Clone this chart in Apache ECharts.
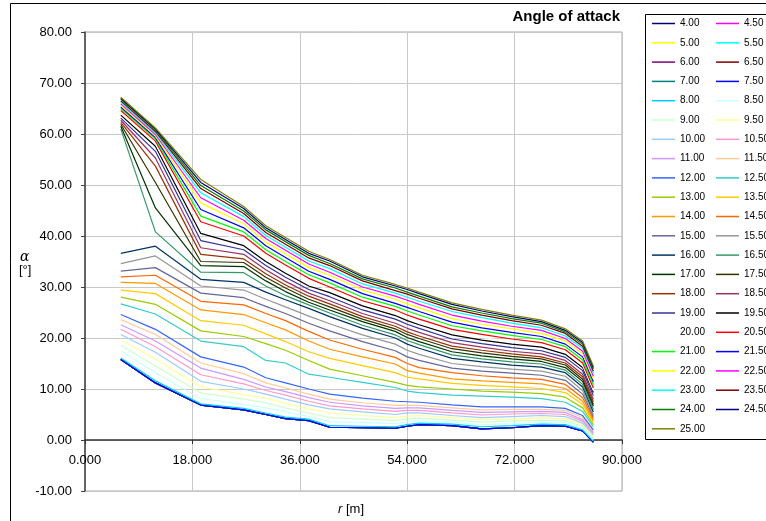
<!DOCTYPE html>
<html>
<head>
<meta charset="utf-8">
<script src="https://cdn.jsdelivr.net/npm/echarts@6/dist/echarts.min.js"></script>
<style>
  html, body { margin: 0; padding: 0; background: #fff; }
  #chart { width: 766px; height: 521px; }
</style>
</head>
<body>
<div id="chart"></div>
<script>
// radial stations along the blade [m]
const radius = [6.0, 11.8, 19.4, 26.6, 30.3, 33.6, 37.5, 41.0, 46.5, 52.0, 54.0, 56.0, 61.5, 66.5, 71.5, 76.5, 80.5, 83.4, 85.2];

const windLabels = ['4.00', '4.50', '5.00', '5.50', '6.00', '6.50', '7.00', '7.50', '8.00', '8.50',
  '9.00', '9.50', '10.00', '10.50', '11.00', '11.50', '12.00', '12.50', '13.00', '13.50',
  '14.00', '14.50', '15.00', '15.50', '16.00', '16.50', '17.00', '17.50', '18.00', '18.50',
  '19.00', '19.50', '20.00', '20.50', '21.00', '21.50', '22.00', '22.50', '23.00', '23.50',
  '24.00', '24.50', '25.00'];

// angle of attack [deg] per wind speed, one value per station
const aoaBelowRated = [15.8, 11.2, 6.85, 5.9, 5.0, 4.2, 3.8, 2.5, 2.4, 2.3, 2.7, 3.0, 2.8, 2.2, 2.4, 2.8, 2.7, 1.8, -0.4];
const aoa800 = [16.1, 11.6, 7.1, 6.2, 5.3, 4.5, 4.1, 2.8, 2.7, 2.6, 3.0, 3.3, 3.1, 2.6, 2.8, 3.1, 3.0, 2.0, -0.2];
const aoa850 = [17.5, 13.2, 8.1, 7.0, 6.3, 5.5, 4.6, 3.6, 3.4, 3.2, 3.6, 3.8, 3.5, 3.0, 3.2, 3.5, 3.4, 2.3, 0.1];
const aoa900 = [18.6, 14.5, 9.2, 8.0, 7.3, 6.3, 5.3, 4.4, 4.1, 3.8, 4.1, 4.3, 3.9, 3.5, 3.7, 3.9, 3.8, 2.7, 0.4];
const aoa950 = [19.6, 15.9, 10.4, 8.9, 8.2, 7.2, 6.1, 5.3, 4.8, 4.4, 4.7, 4.8, 4.4, 4.0, 4.1, 4.4, 4.2, 3.0, 0.7];
const aoa1000 = [20.7, 17.2, 11.5, 10.0, 9.0, 8.0, 6.9, 6.1, 5.5, 5.0, 5.3, 5.3, 4.8, 4.4, 4.6, 4.8, 4.6, 3.3, 1.0];
const aoa1050 = [21.7, 18.3, 12.8, 11.0, 9.7, 8.8, 7.6, 6.7, 6.1, 5.6, 5.8, 5.8, 5.3, 4.9, 5.1, 5.2, 5.0, 3.7, 1.3];
const aoa1100 = [22.6, 19.4, 14.1, 11.9, 10.4, 9.5, 8.3, 7.4, 6.7, 6.2, 6.3, 6.3, 5.8, 5.4, 5.5, 5.6, 5.4, 4.0, 1.5];
const aoa1150 = [23.6, 20.7, 15.1, 13.0, 11.2, 10.2, 9.0, 8.0, 7.3, 6.8, 6.8, 6.8, 6.3, 5.9, 6.0, 6.0, 5.8, 4.4, 1.8];
const aoa1200 = [24.6, 21.7, 16.3, 14.3, 12.2, 11.2, 10.0, 9.0, 8.2, 7.6, 7.5, 7.4, 6.9, 6.5, 6.5, 6.5, 6.2, 4.8, 2.0];
const aoa1250 = [26.7, 24.7, 19.4, 18.3, 15.6, 15.1, 12.9, 12.3, 11.3, 10.3, 9.6, 9.3, 8.8, 8.6, 8.4, 8.1, 7.4, 5.6, 2.6];
const aoa1300 = [28.0, 26.6, 21.4, 20.3, 18.9, 17.6, 15.6, 13.9, 12.6, 11.3, 10.7, 10.4, 10.0, 9.6, 9.4, 9.1, 8.4, 6.3, 3.0];
const aoa1350 = [29.4, 28.7, 23.4, 22.5, 20.8, 19.3, 17.3, 16.0, 14.6, 13.2, 12.3, 12.0, 11.1, 10.7, 10.4, 10.1, 9.3, 7.0, 3.4];
const aoa1400 = [30.9, 30.7, 25.5, 24.6, 23.0, 21.6, 19.4, 17.8, 16.3, 14.9, 13.6, 13.1, 12.0, 11.6, 11.3, 11.0, 10.1, 7.6, 3.8];
const aoa1450 = [32.0, 32.3, 27.2, 26.5, 24.8, 23.4, 21.3, 19.6, 17.8, 16.2, 15.0, 14.2, 13.2, 12.6, 12.2, 11.9, 10.9, 8.3, 4.2];
const aoa1500 = [33.1, 33.8, 28.8, 27.9, 26.2, 24.8, 22.9, 21.4, 19.3, 17.5, 16.3, 15.6, 14.1, 13.5, 13.1, 12.7, 11.7, 9.0, 4.6];
const aoa1550 = [34.6, 36.1, 30.2, 29.4, 27.6, 26.1, 24.3, 22.8, 20.6, 18.8, 17.6, 16.8, 15.0, 14.4, 13.9, 13.5, 12.5, 9.7, 5.0];
const aoa1600 = [36.6, 38.0, 31.5, 30.9, 29.0, 27.5, 25.8, 24.2, 21.9, 20.0, 18.8, 18.0, 16.0, 15.3, 14.7, 14.3, 13.2, 10.4, 5.5];
const aoa1650 = [61.0, 40.8, 32.9, 32.8, 30.2, 28.3, 26.5, 24.9, 22.5, 20.6, 19.5, 18.7, 16.7, 15.9, 15.3, 14.9, 13.7, 10.9, 6.0];
const aoa1700 = [61.5, 45.5, 34.2, 34.0, 31.2, 29.1, 27.0, 25.5, 23.2, 21.3, 20.1, 19.3, 17.3, 16.5, 15.9, 15.4, 14.2, 11.5, 6.6];
const aoa1750 = [61.9, 50.5, 35.0, 34.8, 31.9, 29.8, 27.6, 26.1, 23.7, 21.8, 20.7, 19.9, 17.9, 17.1, 16.4, 15.9, 14.7, 11.9, 7.0];
const aoa1800 = [62.3, 53.7, 36.4, 35.5, 32.6, 30.4, 28.2, 26.7, 24.2, 22.3, 21.2, 20.4, 18.4, 17.6, 16.9, 16.3, 15.1, 12.4, 7.5];
const aoa1850 = [62.7, 55.3, 37.7, 36.4, 33.4, 31.1, 28.8, 27.3, 24.8, 22.9, 21.9, 21.1, 19.1, 18.2, 17.4, 16.9, 15.6, 12.9, 8.0];
const aoa1900 = [63.1, 56.6, 39.1, 37.3, 34.2, 31.9, 29.5, 28.1, 25.5, 23.7, 22.7, 21.9, 19.8, 18.9, 18.1, 17.5, 16.2, 13.6, 8.7];
const aoa1950 = [63.7, 57.6, 40.5, 38.1, 35.0, 32.7, 30.2, 28.9, 26.3, 24.4, 23.4, 22.6, 20.6, 19.6, 18.8, 18.2, 16.8, 14.2, 9.3];
const aoa2000 = [64.2, 58.1, 41.7, 39.1, 35.8, 33.5, 30.9, 29.5, 26.8, 24.9, 24.0, 23.2, 21.1, 20.1, 19.3, 18.6, 17.2, 14.6, 9.7];
const aoa2050 = [64.6, 58.6, 42.8, 40.0, 36.6, 34.3, 31.7, 30.0, 27.3, 25.5, 24.5, 23.7, 21.7, 20.7, 19.8, 19.1, 17.7, 15.1, 10.2];
const aoa2100 = [65.0, 59.0, 43.9, 40.8, 37.3, 35.0, 32.4, 30.8, 28.0, 26.2, 25.3, 24.5, 22.4, 21.4, 20.5, 19.7, 18.3, 15.7, 10.8];
const aoa2150 = [65.3, 59.3, 45.2, 41.6, 38.1, 35.8, 33.1, 31.5, 28.7, 26.8, 26.0, 25.2, 23.1, 22.0, 21.1, 20.3, 18.8, 16.3, 11.4];
const aoa2200 = [65.6, 59.6, 46.5, 42.4, 38.8, 36.5, 33.8, 32.3, 29.4, 27.6, 26.7, 25.9, 23.8, 22.7, 21.8, 20.9, 19.4, 16.9, 12.0];
const aoa2250 = [65.9, 59.9, 47.5, 43.1, 39.5, 37.2, 34.5, 32.9, 30.0, 28.2, 27.4, 26.6, 24.5, 23.3, 22.3, 21.5, 19.9, 17.4, 12.5];
const aoa2300 = [66.2, 60.2, 48.5, 43.8, 40.1, 37.8, 35.1, 33.6, 30.6, 28.8, 28.0, 27.2, 25.2, 24.0, 22.9, 22.0, 20.4, 18.0, 13.1];
const aoa2350 = [66.5, 60.5, 49.3, 44.4, 40.7, 38.4, 35.7, 34.2, 31.2, 29.3, 28.6, 27.8, 25.7, 24.5, 23.4, 22.5, 20.9, 18.4, 13.5];
const aoa2400 = [66.8, 60.8, 49.9, 44.9, 41.2, 38.9, 36.2, 34.6, 31.6, 29.8, 29.0, 28.2, 26.1, 24.9, 23.8, 22.9, 21.2, 18.8, 13.9];
const aoa2450 = [67.0, 61.0, 50.5, 45.4, 41.6, 39.3, 36.6, 35.1, 32.0, 30.2, 29.5, 28.7, 26.6, 25.3, 24.2, 23.2, 21.5, 19.1, 14.2];
const aoa2500 = [67.2, 61.2, 51.1, 45.8, 42.0, 39.7, 37.0, 35.4, 32.3, 30.5, 29.8, 29.0, 26.9, 25.6, 24.5, 23.5, 21.8, 19.4, 14.5];

// 4.00 .. 7.50 m/s lie on top of each other
const seriesValues = [
  aoaBelowRated, aoaBelowRated, aoaBelowRated, aoaBelowRated, aoaBelowRated, aoaBelowRated, aoaBelowRated, aoaBelowRated,
  aoa800, aoa850, aoa900, aoa950, aoa1000, aoa1050, aoa1100, aoa1150, aoa1200, aoa1250, aoa1300, aoa1350,
  aoa1400, aoa1450, aoa1500, aoa1550, aoa1600, aoa1650, aoa1700, aoa1750, aoa1800, aoa1850,
  aoa1900, aoa1950, aoa2000, aoa2050, aoa2100, aoa2150, aoa2200, aoa2250, aoa2300, aoa2350,
  aoa2400, aoa2450, aoa2500
];

const lineColors = ['#000080', '#FF00FF', '#FFFF00', '#00FFFF', '#800080', '#800000', '#008080', '#0000FF', '#00CCFF', '#CCFFFF',
  '#CCFFCC', '#FFFF99', '#99CCFF', '#FF99CC', '#CC99FF', '#FFCC99', '#3366FF', '#33CCCC', '#99CC00', '#FFCC00',
  '#FF9900', '#FF6600', '#666699', '#969696', '#003366', '#339966', '#003300', '#333300', '#993300', '#993366',
  '#333399', '#000000', '#FFFFFF', '#FF0000', '#00FF00', '#0000FF', '#FFFF00', '#FF00FF', '#00FFFF', '#800000',
  '#008000', '#000080', '#808000'];

const FONT = '"Liberation Sans", Arial, sans-serif';

const myChart = echarts.init(document.getElementById('chart'));

const series = windLabels.map((name, i) => ({
  name: name,
  type: 'line',
  data: radius.map((r, j) => [r, seriesValues[i][j]]),
  symbol: 'none',
  showSymbol: false,
  color: lineColors[i],
  lineStyle: { width: 1.2, color: lineColors[i] },
  emphasis: { disabled: true },
  silent: true,
}));

const legendBase = {
  orient: 'vertical',
  top: 16.5,
  padding: 0,
  icon: 'rect',
  itemWidth: 23,
  itemHeight: 1.5,
  itemGap: 5.3,
  selectedMode: false,
  textStyle: { fontSize: 10, fontFamily: FONT, color: '#000', lineHeight: 14 },
};

const option = {
  animation: false,
  backgroundColor: '#fff',
  title: {
    text: 'Angle of attack',
    right: 146,
    top: 9,
    padding: 0,
    textStyle: { fontSize: 15, fontWeight: 'bold', fontFamily: FONT, color: '#000' },
  },
  legend: [
    Object.assign({}, legendBase, { left: 652, data: windLabels.filter((_, i) => i % 2 === 0) }),
    Object.assign({}, legendBase, { left: 716, data: windLabels.filter((_, i) => i % 2 === 1) }),
  ],
  grid: {
    left: 85,
    right: 144,
    top: 32,
    bottom: 30,
    show: true,
    borderColor: '#a6a6a6',
    borderWidth: 1,
  },
  xAxis: {
    type: 'value',
    min: 0,
    max: 90,
    interval: 18,
    axisLine: { onZero: true, lineStyle: { color: '#303030', width: 1.5 } },
    axisTick: { show: true, length: 4, lineStyle: { color: '#303030' } },
    axisLabel: {
      margin: -37,
      fontSize: 13,
      fontFamily: FONT,
      color: '#000',
      formatter: (v) => v.toFixed(3),
    },
    splitLine: { show: true, lineStyle: { color: '#c8c8c8', width: 1 } },
  },
  yAxis: {
    type: 'value',
    min: -10,
    max: 80,
    interval: 10,
    axisLine: { show: true, lineStyle: { color: '#404040', width: 1.5 } },
    axisTick: { show: true, length: 4, lineStyle: { color: '#404040' } },
    axisLabel: {
      margin: 13,
      fontSize: 13,
      fontFamily: FONT,
      color: '#000',
      formatter: (v) => v.toFixed(2),
    },
    splitLine: { show: true, lineStyle: { color: '#c8c8c8', width: 1 } },
  },
  graphic: [
    {
      type: 'rect',
      shape: { x: 10.5, y: 3.5, width: 800, height: 600 },
      style: { fill: 'none', stroke: '#000', lineWidth: 1 },
      silent: true,
    },
    {
      type: 'rect',
      shape: { x: 645.5, y: 14.5, width: 140, height: 425 },
      style: { fill: 'none', stroke: '#000', lineWidth: 1 },
      silent: true,
    },
    {
      type: 'text',
      left: 20,
      top: 250,
      style: { text: 'α', font: 'italic 14px "DejaVu Serif", serif', fill: '#000' },
    },
    {
      type: 'text',
      left: 19,
      top: 264,
      style: { text: '[°]', font: '13px "Liberation Sans", Arial, sans-serif', fill: '#000' },
    },
    {
      type: 'text',
      left: 338,
      top: 503,
      style: {
        text: '{i|r} [m]',
        font: '13px "Liberation Sans", Arial, sans-serif',
        fill: '#000',
        rich: { i: { fontStyle: 'italic', fontSize: 13, fontFamily: FONT } },
      },
    },
  ],
  series: series,
};

myChart.setOption(option);
</script>
</body>
</html>
